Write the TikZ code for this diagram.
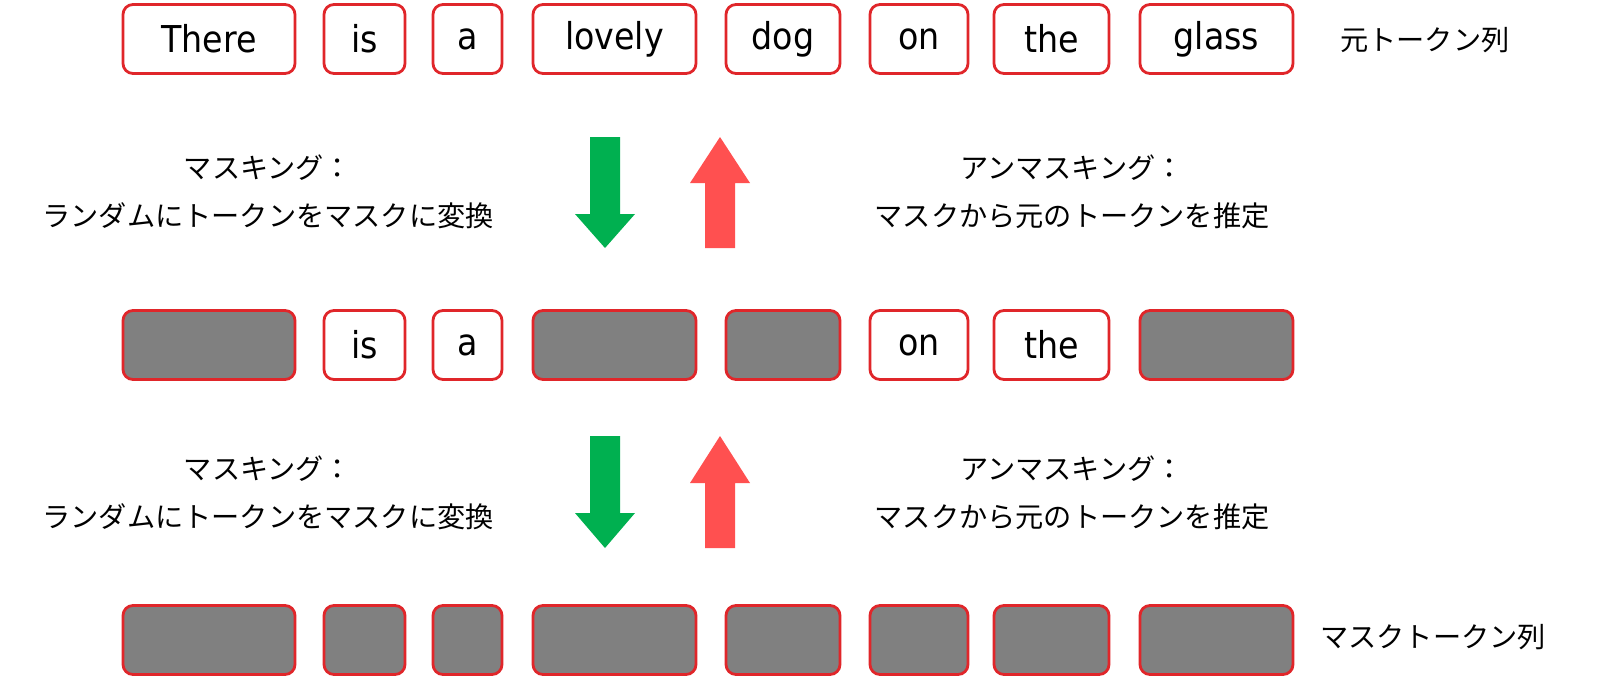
\documentclass[tikz,border=0pt]{standalone}
\usepackage{fontspec}
\setmainfont{DejaVu Sans Condensed}
\newfontfamily\jp{Noto Sans CJK JP}
\definecolor{bordred}{HTML}{E0262A}
\definecolor{maskgray}{HTML}{808080}
\definecolor{downgreen}{HTML}{00B050}
\definecolor{upred}{HTML}{FF5050}
\tikzset{
  tok/.style={draw=bordred, line width=2.8pt, rounded corners=10pt, fill=white, inner sep=0pt, font=\fontsize{37}{42}\selectfont},
  masked/.style={tok, fill=maskgray},
  jplabel/.style={font=\jp\fontsize{28.2}{48}\selectfont, align=center, inner sep=0pt},
  downarrow/.style={fill=downgreen},
  uparrow/.style={fill=upred},
}
\newcommand{\tokbox}[6]{% name, style, x1, x2, yc, text
  \node[#2, minimum width={#4-#3}, minimum height=69pt] (#1) at ({(#3+#4)/2},#5) {#6};}
\begin{document}
\begin{tikzpicture}[x=1pt,y=-1pt]
\useasboundingbox (0,0) rectangle (1600,697);
% row 1
\tokbox{a1}{tok}{123}{295}{39}{There}
\tokbox{a2}{tok}{324}{405}{39}{is}
\tokbox{a3}{tok}{433}{502}{39}{a}
\tokbox{a4}{tok}{533}{696}{39}{lovely}
\tokbox{a5}{tok}{726}{840}{39}{dog}
\tokbox{a6}{tok}{870}{968}{39}{on}
\tokbox{a7}{tok}{994}{1109}{39}{the}
\tokbox{a8}{tok}{1140}{1293}{39}{glass}
\node[jplabel, anchor=west] (lab1) at (1340,40) {元トークン列};
% row 2
\tokbox{b1}{masked}{123}{295}{345}{}
\tokbox{b2}{tok}{324}{405}{345}{is}
\tokbox{b3}{tok}{433}{502}{345}{a}
\tokbox{b4}{masked}{533}{696}{345}{}
\tokbox{b5}{masked}{726}{840}{345}{}
\tokbox{b6}{tok}{870}{968}{345}{on}
\tokbox{b7}{tok}{994}{1109}{345}{the}
\tokbox{b8}{masked}{1140}{1293}{345}{}
% row 3
\tokbox{c1}{masked}{123}{295}{640}{}
\tokbox{c2}{masked}{324}{405}{640}{}
\tokbox{c3}{masked}{433}{502}{640}{}
\tokbox{c4}{masked}{533}{696}{640}{}
\tokbox{c5}{masked}{726}{840}{640}{}
\tokbox{c6}{masked}{870}{968}{640}{}
\tokbox{c7}{masked}{994}{1109}{640}{}
\tokbox{c8}{masked}{1140}{1293}{640}{}
\node[jplabel, anchor=west] (lab3) at (1320,637) {マスクトークン列};
% labels
\node[jplabel] (m1) at (268,192) {マスキング：\\ランダムにトークンをマスクに変換};
\node[jplabel] (u1) at (1072,192) {アンマスキング：\\マスクから元のトークンを推定};
\node[jplabel] (m2) at (268,493) {マスキング：\\ランダムにトークンをマスクに変換};
\node[jplabel] (u2) at (1072,493) {アンマスキング：\\マスクから元のトークンを推定};
% block arrows
\fill[downarrow] (590,137) -- (620,137) -- (620,214) -- (635,214) -- (605,248) -- (575,214) -- (590,214) -- cycle;
\fill[uparrow] (705,248) -- (735,248) -- (735,183) -- (750,183) -- (720,137) -- (690,183) -- (705,183) -- cycle;
\fill[downarrow] (590,436) -- (620,436) -- (620,513) -- (635,513) -- (605,548) -- (575,513) -- (590,513) -- cycle;
\fill[uparrow] (705,548) -- (735,548) -- (735,483) -- (750,483) -- (720,436) -- (690,483) -- (705,483) -- cycle;
\end{tikzpicture}
\end{document}
